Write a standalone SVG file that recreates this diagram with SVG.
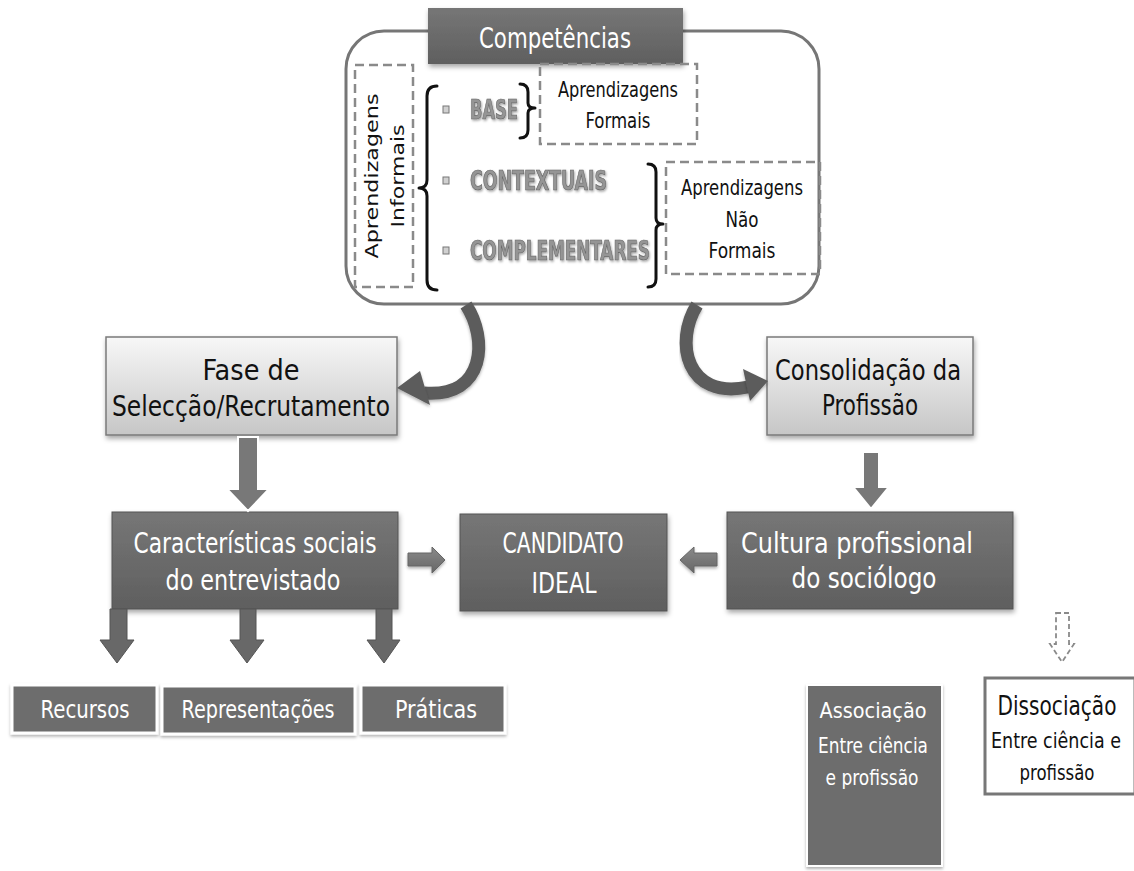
<svg xmlns="http://www.w3.org/2000/svg" width="1134" height="871" viewBox="0 0 1134 871">
<defs>
<linearGradient id="gLight" x1="0" y1="0" x2="0" y2="1">
<stop offset="0" stop-color="#f7f7f7"/><stop offset="1" stop-color="#c6c6c6"/>
</linearGradient>
<linearGradient id="gDark" x1="0" y1="0" x2="0" y2="1">
<stop offset="0" stop-color="#767676"/><stop offset="1" stop-color="#5f5f5f"/>
</linearGradient>
<linearGradient id="gArrow" x1="0" y1="0" x2="0" y2="1">
<stop offset="0" stop-color="#8a8a8a"/><stop offset="1" stop-color="#666"/>
</linearGradient>
<filter id="sh" x="-10%" y="-10%" width="130%" height="140%">
<feDropShadow dx="1" dy="3" stdDeviation="2.5" flood-color="#000" flood-opacity="0.35"/>
</filter>
<filter id="shs" x="-10%" y="-10%" width="130%" height="140%">
<feDropShadow dx="0" dy="2" stdDeviation="1.5" flood-color="#000" flood-opacity="0.3"/>
</filter>
<filter id="tsh" x="-5%" y="-20%" width="115%" height="160%">
<feDropShadow dx="1" dy="1.5" stdDeviation="0.8" flood-color="#000" flood-opacity="0.35"/>
</filter>
</defs>
<style>
.t{font-family:"Liberation Sans Narrow","DejaVu Sans Condensed","Liberation Sans",sans-serif;text-anchor:middle}
.w{fill:#fff}
.k{fill:#111}
.dark{fill:url(#gDark);stroke:#555;stroke-width:1}
.light{fill:url(#gLight);stroke:#7a7a7a;stroke-width:1.5}
.dash{fill:none;stroke:#8a8a8a;stroke-width:2.5;stroke-dasharray:9 5}
.brace{fill:none;stroke:#111;stroke-width:3;stroke-linecap:round;stroke-linejoin:round}
.bold{font-family:"Liberation Sans Narrow","DejaVu Sans Condensed","Liberation Sans",sans-serif;font-weight:bold;font-size:26px;fill:#959595;stroke:#666;stroke-width:0.7}
.bul{fill:#d0d0d0;stroke:#777;stroke-width:1}
.darr{fill:#787878;stroke:#fff;stroke-width:2}
.barr{fill:#686868;stroke:#555;stroke-width:1}
</style>
<rect width="1134" height="871" fill="#fff"/>

<g id="competencias">
<rect x="346" y="31" width="473" height="273" rx="38" fill="#fff" stroke="#767676" stroke-width="3"/>
<rect x="428" y="8" width="255" height="56" fill="url(#gDark)" filter="url(#sh)"/>
<text class="t w" x="555" y="48" font-size="29" textLength="152" lengthAdjust="spacingAndGlyphs">Competências</text>
</g>

<g id="informais">
<rect class="dash" x="355" y="65" width="58" height="222"/>
<g transform="translate(385,176) rotate(-90)">
<text font-family="'DejaVu Sans','Liberation Sans',sans-serif" font-size="18" fill="#111" text-anchor="middle" x="0" y="-7" textLength="165" lengthAdjust="spacingAndGlyphs">Aprendizagens</text>
<text font-family="'DejaVu Sans','Liberation Sans',sans-serif" font-size="18" fill="#111" text-anchor="middle" x="0" y="19" textLength="103" lengthAdjust="spacingAndGlyphs">Informais</text>
</g>
</g>

<g id="lista">
<path class="brace" d="M437 86 Q427 86 427 96 L427 180 Q427 188 419 188 Q427 188 427 196 L427 280 Q427 290 437 290"/>
<rect class="bul" x="443" y="106" width="6" height="7"/>
<rect class="bul" x="443" y="177" width="6" height="7"/>
<rect class="bul" x="443" y="247" width="6" height="7"/>
<text class="bold" x="470" y="119" textLength="48" lengthAdjust="spacingAndGlyphs" filter="url(#tsh)">BASE</text>
<text class="bold" x="470" y="190" textLength="137" lengthAdjust="spacingAndGlyphs" filter="url(#tsh)">CONTEXTUAIS</text>
<text class="bold" x="470" y="260" textLength="180" lengthAdjust="spacingAndGlyphs" filter="url(#tsh)">COMPLEMENTARES</text>
<path class="brace" d="M520 84 Q528 84 528 92 L528 103 Q528 108 535 108 Q528 108 528 113 L528 130 Q528 138 520 138"/>
<path class="brace" d="M648 164 Q656 164 656 172 L656 218 Q656 224 663 224 Q656 224 656 230 L656 279 Q656 287 648 287"/>
</g>

<g id="formais">
<rect class="dash" x="540" y="64" width="157" height="80"/>
<text class="t k" x="618" y="97" font-size="22" textLength="120" lengthAdjust="spacingAndGlyphs">Aprendizagens</text>
<text class="t k" x="618" y="128" font-size="22" textLength="65" lengthAdjust="spacingAndGlyphs">Formais</text>
</g>

<g id="naoformais">
<rect class="dash" x="666" y="162" width="154" height="112"/>
<text class="t k" x="742" y="195" font-size="22" textLength="122" lengthAdjust="spacingAndGlyphs">Aprendizagens</text>
<text class="t k" x="742" y="227" font-size="22" textLength="33" lengthAdjust="spacingAndGlyphs">Não</text>
<text class="t k" x="742" y="258" font-size="22" textLength="67" lengthAdjust="spacingAndGlyphs">Formais</text>
</g>

<g id="fase">
<rect class="light" x="106" y="337" width="291" height="98" filter="url(#sh)"/>
<text class="t k" x="251" y="380" font-size="28" textLength="97" lengthAdjust="spacingAndGlyphs">Fase de</text>
<text class="t k" x="251" y="416" font-size="28" textLength="278" lengthAdjust="spacingAndGlyphs">Selecção/Recrutamento</text>
</g>

<g id="consolidacao">
<rect class="light" x="767" y="337" width="206" height="98" filter="url(#sh)"/>
<text class="t k" x="868" y="380" font-size="28" textLength="186" lengthAdjust="spacingAndGlyphs">Consolidação da</text>
<text class="t k" x="870" y="415" font-size="28" textLength="96" lengthAdjust="spacingAndGlyphs">Profissão</text>
</g>

<g id="caracteristicas">
<rect class="dark" x="112" y="512" width="286" height="97" filter="url(#sh)"/>
<text class="t w" x="255" y="553" font-size="28" textLength="243" lengthAdjust="spacingAndGlyphs">Características sociais</text>
<text class="t w" x="253" y="590" font-size="28" textLength="175" lengthAdjust="spacingAndGlyphs">do entrevistado</text>
</g>

<g id="candidato">
<rect class="dark" x="460" y="514" width="207" height="97" filter="url(#sh)"/>
<text class="t w" x="563" y="553" font-size="28" textLength="121" lengthAdjust="spacingAndGlyphs">CANDIDATO</text>
<text class="t w" x="564" y="593" font-size="28" textLength="65" lengthAdjust="spacingAndGlyphs">IDEAL</text>
</g>

<g id="cultura">
<rect class="dark" x="727" y="512" width="286" height="97" filter="url(#sh)"/>
<text class="t w" x="857" y="553" font-size="28" textLength="232" lengthAdjust="spacingAndGlyphs">Cultura profissional</text>
<text class="t w" x="864" y="588" font-size="28" textLength="145" lengthAdjust="spacingAndGlyphs">do sociólogo</text>
</g>

<g id="recursos">
<rect x="12" y="685" width="145" height="48" fill="#6d6d6d" stroke="#fff" stroke-width="3" filter="url(#shs)"/>
<text class="t w" x="85" y="718" font-size="25" textLength="89" lengthAdjust="spacingAndGlyphs">Recursos</text>
</g>
<g id="representacoes">
<rect x="162" y="686" width="193" height="48" fill="#6d6d6d" stroke="#fff" stroke-width="3" filter="url(#shs)"/>
<text class="t w" x="258" y="718" font-size="25" textLength="153" lengthAdjust="spacingAndGlyphs">Representações</text>
</g>
<g id="praticas">
<rect x="361" y="685" width="144" height="48" fill="#6d6d6d" stroke="#fff" stroke-width="3" filter="url(#shs)"/>
<text class="t w" x="436" y="718" font-size="25" textLength="82" lengthAdjust="spacingAndGlyphs">Práticas</text>
</g>

<g id="associacao">
<rect x="807" y="685" width="135" height="181" fill="#6d6d6d" stroke="#fff" stroke-width="2" filter="url(#shs)"/>
<text class="t w" x="873" y="718" font-size="22" textLength="107" lengthAdjust="spacingAndGlyphs">Associação</text>
<text class="t w" x="873" y="753" font-size="22" textLength="110" lengthAdjust="spacingAndGlyphs">Entre ciência</text>
<text class="t w" x="872" y="785" font-size="22" textLength="93" lengthAdjust="spacingAndGlyphs">e profissão</text>
</g>

<g id="dissociacao">
<rect x="985" y="678" width="150" height="116" fill="#fff" stroke="#777" stroke-width="3"/>
<text class="t k" x="1057" y="715" font-size="26" textLength="119" lengthAdjust="spacingAndGlyphs">Dissociação</text>
<text class="t k" x="1056" y="748" font-size="22" textLength="130" lengthAdjust="spacingAndGlyphs">Entre ciência e</text>
<text class="t k" x="1057" y="780" font-size="22" textLength="75" lengthAdjust="spacingAndGlyphs">profissão</text>
</g>

<g id="conectores">
<path d="M466 305 C488 338 486 398 424 393" fill="none" stroke="#5c5c5c" stroke-width="13" filter="url(#shs)"/>
<polygon points="397,388 420,371 430,405" fill="#5c5c5c" filter="url(#shs)"/>
<path d="M697 305 C674 342 686 400 748 387" fill="none" stroke="#5c5c5c" stroke-width="13" filter="url(#shs)"/>
<polygon points="768,381 743,369 750,401" fill="#5c5c5c" filter="url(#shs)"/>
<polygon class="darr" points="238,437 258,437 258,489 269,489 248,511 227,489 238,489"/>
<polygon class="darr" points="863,452 879,452 879,487 889,487 871,509 853,487 863,487"/>
<polygon points="408,553 432,553 432,547 445,560 432,573 432,566 408,566" fill="url(#gArrow)" stroke="#666" stroke-width="1" filter="url(#shs)"/>
<polygon points="717,553 694,553 694,547 680,560 694,573 694,566 717,566" fill="url(#gArrow)" stroke="#666" stroke-width="1" filter="url(#shs)"/>
<polygon class="barr" points="110,609 127,609 127,640 134,640 117,663 100,640 110,640"/>
<polygon class="barr" points="240,609 256,609 256,640 264,640 247,663 230,640 240,640"/>
<polygon class="barr" points="376,609 392,609 392,640 400,640 384,663 367,640 376,640"/>
<polygon points="1056,613 1069,613 1069,644 1074,644 1062,662 1050,644 1056,644" fill="#fff" stroke="#8a8a8a" stroke-width="1.8" stroke-dasharray="5 3"/>
</g>
</svg>
